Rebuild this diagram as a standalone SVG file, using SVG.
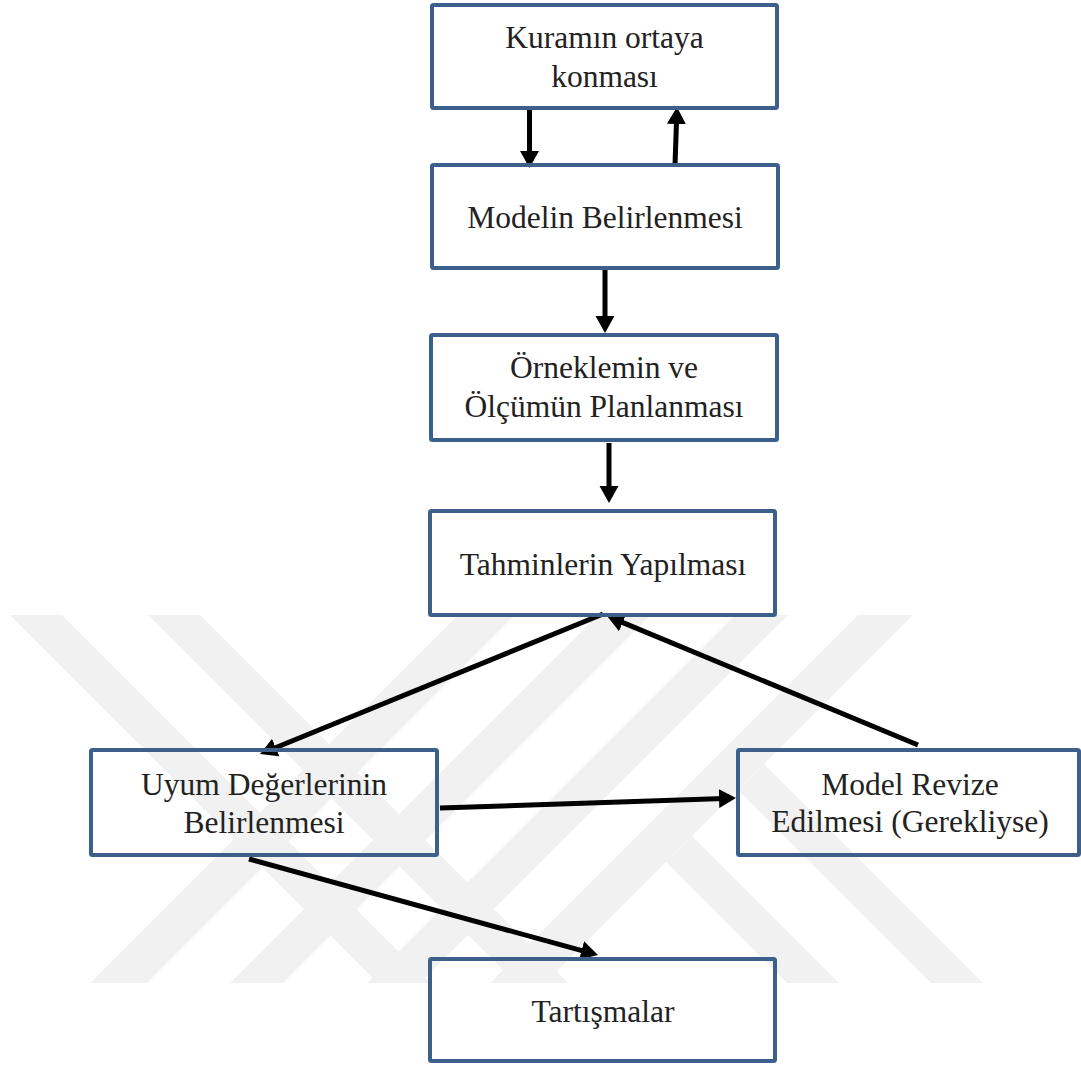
<svg xmlns="http://www.w3.org/2000/svg" width="1081" height="1068" viewBox="0 0 1081 1068">
  <style>
    .box { fill: none; stroke: #3d5f8b; stroke-width: 4; }
    .label { font-family: 'Liberation Serif', 'Times New Roman', serif; font-size: 31.5px; fill: #222222; text-anchor: middle; }
    .wire { fill: none; stroke: #000000; stroke-width: 5; marker-end: url(#head); }
    .mark { fill: #f1f1f1; }
  </style>
  <defs>
    <marker id="head" markerUnits="userSpaceOnUse" markerWidth="18" markerHeight="20" refX="5" refY="9.5" orient="auto">
      <path d="M0,0 L17,9.5 L0,19 Z" fill="#000000"/>
    </marker>
  </defs>

  <rect width="1081" height="1068" fill="#ffffff"/>

  <!-- faint background emblem made of diagonal bands -->
  <g id="emblem">
    <polygon class="mark" points="10,615 62,615 430,983 378,983"/>
    <polygon class="mark" points="148,615 200,615 568,983 516,983"/>
    <polygon class="mark" points="90,983 147,983 515,615 458,615"/>
    <polygon class="mark" points="230,983 283,983 651,615 598,615"/>
    <polygon class="mark" points="367,983 420,983 788,615 735,615"/>
    <polygon class="mark" points="490,983 545,983 913,615 858,615"/>
    <polygon class="mark" points="666,862 692,836 839,983 787,983"/>
    <polygon class="mark" points="738,790 764,764 983,983 931,983"/>
  </g>

  <!-- connectors -->
  <g id="connectors">
    <line class="wire" x1="529.5" y1="110" x2="529.5" y2="156"/>
    <line class="wire" x1="675" y1="165" x2="676.6" y2="119"/>
    <line class="wire" x1="605" y1="270" x2="605" y2="321"/>
    <line class="wire" x1="609" y1="443" x2="609" y2="491"/>
    <line class="wire" x1="603" y1="614" x2="271.1" y2="749.5"/>
    <line class="wire" x1="918" y1="745" x2="618.1" y2="620.6"/>
    <line class="wire" x1="440" y1="808" x2="724" y2="798.4"/>
    <line class="wire" x1="249" y1="859" x2="586.4" y2="951.8"/>
  </g>

  <g id="nodes">
    <g id="kuram">
      <rect class="box" x="432" y="5" width="345" height="103" rx="1.5"/>
      <text class="label" x="604.5" y="48">Kuramın ortaya</text>
      <text class="label" x="604.5" y="87">konması</text>
    </g>

    <g id="model">
      <rect class="box" x="432" y="165" width="346" height="103" rx="1.5"/>
      <text class="label" x="605" y="228">Modelin Belirlenmesi</text>
    </g>

    <g id="orneklem">
      <rect class="box" x="431" y="335" width="346" height="105" rx="1.5"/>
      <text class="label" x="604" y="378">Örneklemin ve</text>
      <text class="label" x="604" y="417">Ölçümün Planlanması</text>
    </g>

    <g id="tahmin">
      <rect class="box" x="430" y="511" width="345" height="104" rx="1.5"/>
      <text class="label" x="603" y="575">Tahminlerin Yapılması</text>
    </g>

    <g id="uyum">
      <rect class="box" x="91" y="750" width="346" height="105" rx="1.5"/>
      <text class="label" x="264" y="795">Uyum Değerlerinin</text>
      <text class="label" x="264" y="833">Belirlenmesi</text>
    </g>

    <g id="revize">
      <rect class="box" x="738" y="750" width="341" height="105" rx="1.5"/>
      <text class="label" x="910" y="795">Model Revize</text>
      <text class="label" x="910" y="832">Edilmesi (Gerekliyse)</text>
    </g>

    <g id="tartisma">
      <rect class="box" x="430" y="959" width="345" height="102" rx="1.5"/>
      <text class="label" x="603" y="1022">Tartışmalar</text>
    </g>
  </g>
</svg>
